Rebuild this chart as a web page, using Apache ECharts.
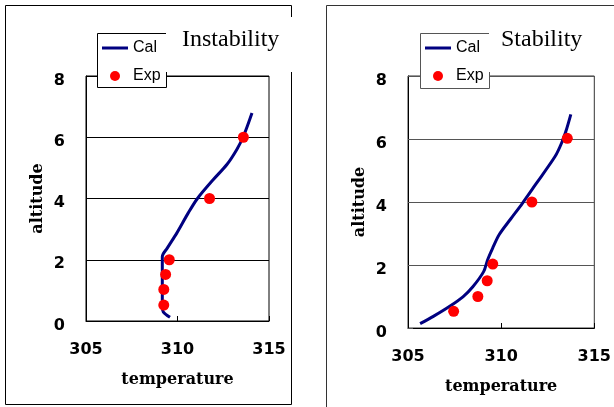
<!DOCTYPE html>
<html>
<head>
<meta charset="utf-8">
<script src="https://cdn.jsdelivr.net/npm/echarts@6/dist/echarts.min.js"></script>
<style>
  html, body { margin: 0; padding: 0; background: #fff; }
  #chart { width: 614px; height: 407px; }
</style>
</head>
<body>
<div id="chart"></div>
<script>
// temperature / altitude pairs
var instCal = [[309.59, 0.12], [309.22, 0.3], [309.17, 0.47], [309.17, 2.1], [309.44, 2.38],
  [309.96, 2.87], [310.59, 3.53], [311.09, 4.0], [311.96, 4.62], [312.7, 5.11],
  [313.25, 5.61], [313.61, 6.04], [314.07, 6.79]];
var instExp = [[309.25, 0.52], [309.25, 1.03], [309.35, 1.52], [309.55, 2.0], [311.75, 4.0], [313.6, 6.0]];

var stabCal = [[305.65, 0.14], [306.36, 0.37], [307.24, 0.69], [307.95, 0.99], [308.48, 1.31],
  [309.06, 1.79], [309.27, 2.16], [309.54, 2.53], [309.89, 2.96], [310.51, 3.46],
  [311.13, 3.95], [311.84, 4.55], [312.9, 5.45], [313.25, 5.88], [313.51, 6.31], [313.74, 6.78]];
var stabExp = [[307.45, 0.53], [308.75, 1.0], [309.25, 1.5], [309.55, 2.03], [311.65, 4.0], [313.55, 6.02]];

var panelTitles = ['Instability', 'Stability'];
var legendNames = ['Cal', 'Exp'];
var xName = 'temperature';
var yName = 'altitude';

var myChart = echarts.init(document.getElementById('chart'));

var tickFont = { fontFamily: 'DejaVu Sans', fontWeight: 'bold', fontSize: 16, color: '#000' };
var nameFont = { fontFamily: 'DejaVu Serif', fontWeight: 'bold', fontSize: 16, color: '#000' };

function xAxisFor(idx, lineColor) {
  return {
    type: 'value', gridIndex: idx, min: 305, max: 315, interval: 5,
    name: xName, nameLocation: 'middle', nameGap: 51, nameTextStyle: nameFont,
    axisLine: { lineStyle: { color: '#000', width: 1 } },
    axisTick: { inside: true, length: 5, lineStyle: { color: '#000' } },
    axisLabel: Object.assign({ margin: 21 }, tickFont),
    splitLine: { show: false }
  };
}
function yAxisFor(idx, lineColor) {
  return {
    type: 'value', gridIndex: idx, min: 0, max: 8, interval: 2,
    name: yName, nameLocation: 'middle', nameGap: 40, nameRotate: 90, nameTextStyle: nameFont,
    axisLine: { lineStyle: { color: '#000', width: 1 } },
    axisTick: { inside: true, length: 5, lineStyle: { color: lineColor } },
    axisLabel: Object.assign({ margin: 21, verticalAlign: 'top', lineHeight: 9 }, tickFont),
    splitLine: { show: true, lineStyle: { color: lineColor, width: 1 } }
  };
}

function calSeries(idx, data) {
  return {
    name: 'Cal', type: 'line', xAxisIndex: idx, yAxisIndex: idx, data: data,
    symbol: 'none', smooth: 0.3, z: 3,
    lineStyle: { color: '#000080', width: 3 }, itemStyle: { color: '#000080' }
  };
}
function expSeries(idx, data) {
  return {
    name: 'Exp', type: 'scatter', xAxisIndex: idx, yAxisIndex: idx, data: data,
    symbol: 'circle', symbolSize: 11, z: 4,
    itemStyle: { color: '#ff0000', opacity: 1 }
  };
}

// thin bar inside a 26x10 box, used as the line icon
var lineIcon = 'path://M0,0H26V0.01H0Z M0,3.5H26V6.5H0Z M0,9.99H26V10H0Z';

function legendAt(left) {
  return {
    left: left, top: 40, orient: 'vertical', itemGap: 12,
    itemWidth: 26, itemHeight: 10, padding: 0, z: 20,
    data: [{ name: legendNames[0], icon: lineIcon }, { name: legendNames[1], icon: 'circle' }],
    textStyle: { fontFamily: 'Liberation Sans', fontSize: 16, color: '#000' }
  };
}

var frameStyle = { stroke: '#000', lineWidth: 1, fill: null };
var titleStyle = { fontFamily: 'Liberation Serif', fontWeight: 'normal', fontSize: 24, color: '#000' };

myChart.setOption({
  animation: false,
  backgroundColor: '#fff',
  title: [
    { text: panelTitles[0], left: 182, top: 28, padding: 0, textStyle: titleStyle },
    { text: panelTitles[1], left: 501, top: 28, padding: 0, textStyle: titleStyle }
  ],
  legend: [legendAt(102), legendAt(425)],
  grid: [
    { left: 86, top: 76, width: 183, height: 245, show: true, borderColor: '#000', borderWidth: 1, backgroundColor: 'transparent' },
    { left: 408, top: 76, width: 188, height: 252, show: true, borderColor: '#333', borderWidth: 1, backgroundColor: 'transparent' }
  ],
  xAxis: [xAxisFor(0, '#000'), xAxisFor(1, '#555')],
  yAxis: [yAxisFor(0, '#000'), yAxisFor(1, '#555')],
  series: [calSeries(0, instCal), expSeries(0, instExp), calSeries(1, stabCal), expSeries(1, stabExp)],
  graphic: [
    // outer frames
    { type: 'polyline', silent: true, shape: { points: [[291.5, 17], [291.5, 5.5], [5.5, 5.5], [5.5, 404.5], [291.5, 404.5], [291.5, 72]] }, style: frameStyle },
    { type: 'polyline', silent: true, shape: { points: [[326.5, 407], [326.5, 5.5], [614, 5.5]] }, style: { stroke: '#333', lineWidth: 1, fill: null } },
    // legend boxes (right edge hidden behind the titles)
    { type: 'rect', silent: true, z: 9, shape: { x: 98, y: 34, width: 68, height: 53 }, style: { fill: '#fff' } },
    { type: 'polyline', silent: true, z: 10, shape: { points: [[166.5, 72], [166.5, 87.5], [97.5, 87.5], [97.5, 33.5], [166, 33.5]] }, style: frameStyle },
    { type: 'rect', silent: true, z: 9, shape: { x: 421, y: 34, width: 68, height: 54 }, style: { fill: '#fff' } },
    { type: 'polyline', silent: true, z: 10, shape: { points: [[489.5, 72], [489.5, 88.5], [420.5, 88.5], [420.5, 33.5], [489, 33.5]] }, style: { stroke: '#555', lineWidth: 1, fill: null } }
  ]
});
</script>
</body>
</html>
